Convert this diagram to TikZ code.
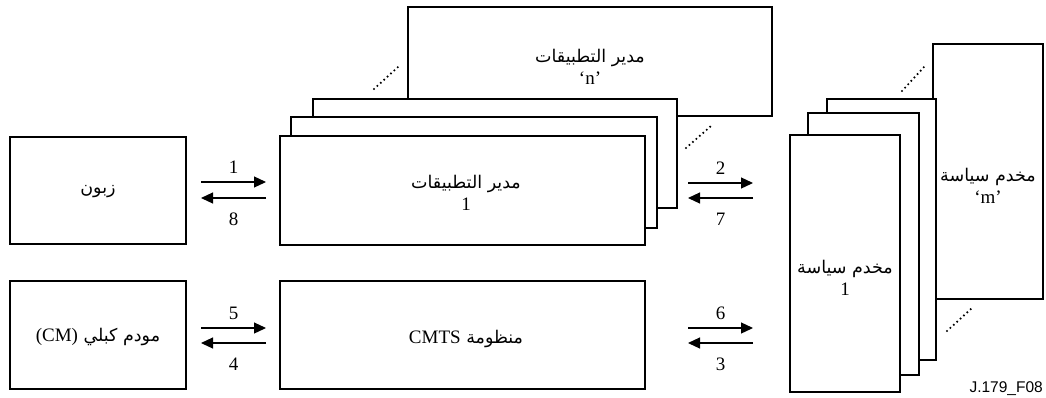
\documentclass[tikz,border=0pt]{standalone}
\usepackage{fontspec}
\setmainfont{Liberation Serif}
\newfontfamily\arabicfont[Script=Arabic]{DejaVu Sans}
\newfontfamily\codefont{Liberation Sans}
\TeXXeTstate=1
\usetikzlibrary{arrows.meta}
\tikzset{
  box/.style={draw, fill=white, line width=2.2pt, inner sep=0pt},
  arr/.style={line width=1.2pt, -{Triangle[length=12pt,width=11pt]}},
  dots/.style={line width=2.4pt, line cap=round, dash pattern=on 0pt off 4.6pt},
  num/.style={font=\fontsize{19}{20}\selectfont, inner sep=0pt},
  lbl/.style={font=\fontsize{19}{24}\selectfont, align=center, inner sep=0pt},
}
\newcommand{\ar}[1]{{\arabicfont\fontsize{17.5}{24}\selectfont\beginR #1\endR}}
\begin{document}
\begin{tikzpicture}[x=1pt,y=-1pt]
\useasboundingbox (0,0) rectangle (1046,397);
% left column
\node[box, minimum width=176pt, minimum height=107pt] (cust) at (98,190.5) {};
\node[box, minimum width=176pt, minimum height=108pt] (cm) at (98,335) {};
\node[lbl] (custt) at (98,192) {\ar{زبون}};
\node[lbl] (cmt) at (98,337) {{\arabicfont\fontsize{17.5}{24}\selectfont\beginR مودم كبلي \beginL\fontsize{19}{24}\rmfamily(CM)\endL\endR}};
% application managers
\node[box, minimum width=364pt, minimum height=109pt] (appn) at (590,61.5) {};
\node[lbl] (appnt) at (590,67) {\ar{مدير التطبيقات}\\[-2pt]`n'};
\node[box, minimum width=364pt, minimum height=109pt] (app3) at (495,153.5) {};
\node[box, minimum width=366pt, minimum height=111pt] (app2) at (474,172.5) {};
\node[box, minimum width=365pt, minimum height=109pt] (app1) at (462.5,190.5) {};
\node[lbl] (app1t) at (466,193) {\ar{مدير التطبيقات}\\[-2pt]1};
\node[box, minimum width=365pt, minimum height=108pt] (cmts) at (462.5,335) {};
\node[lbl] (cmtst) at (466,339) {{\arabicfont\fontsize{17.5}{24}\selectfont\beginR منظومة \beginL\fontsize{19}{24}\rmfamily CMTS\endL\endR}};
% policy servers
\node[box, minimum width=110pt, minimum height=255pt] (polm) at (988,171.5) {};
\node[lbl] (polmt) at (988,186) {\ar{مخدم سياسة}\\[-2pt]`m'};
\node[box, minimum width=109pt, minimum height=261pt] (pol3) at (881.5,229.5) {};
\node[box, minimum width=111pt, minimum height=262pt] (pol2) at (863.5,244) {};
\node[box, minimum width=110pt, minimum height=257pt] (pol1) at (845,263.5) {};
\node[lbl] (pol1t) at (845,278) {\ar{مخدم سياسة}\\[-2pt]1};
% dotted continuation marks
\draw[dots] (374,89) -- (398,67);
\draw[dots] (686,148) -- (711,126);
\draw[dots] (902,91) -- (924,67);
\draw[dots] (947,331) -- (972,308);
% arrows
\coordinate (a1s) at (201,182); \coordinate (a1e) at (266,182);
\coordinate (a8s) at (266,198); \coordinate (a8e) at (201,198);
\coordinate (a5s) at (201,328); \coordinate (a5e) at (266,328);
\coordinate (a4s) at (266,343); \coordinate (a4e) at (201,343);
\coordinate (a2s) at (688,183); \coordinate (a2e) at (753,183);
\coordinate (a7s) at (753,198); \coordinate (a7e) at (688,198);
\coordinate (a6s) at (688,328); \coordinate (a6e) at (753,328);
\coordinate (a3s) at (753,343); \coordinate (a3e) at (688,343);
\draw[arr] (a1s) -- node[num, above=8pt] {1} (a1e);
\draw[arr] (a8s) -- node[num, below=14pt] {8} (a8e);
\draw[arr] (a5s) -- node[num, above=8pt] {5} (a5e);
\draw[arr] (a4s) -- node[num, below=14pt] {4} (a4e);
\draw[arr] (a2s) -- node[num, above=8pt] {2} (a2e);
\draw[arr] (a7s) -- node[num, below=14pt] {7} (a7e);
\draw[arr] (a6s) -- node[num, above=8pt] {6} (a6e);
\draw[arr] (a3s) -- node[num, below=14pt] {3} (a3e);
% figure code
\node[anchor=base east, inner sep=0pt, font=\codefont\fontsize{15.5}{17}\selectfont] (code) at (1043,392) {J.179\_F08};
\end{tikzpicture}
\end{document}
